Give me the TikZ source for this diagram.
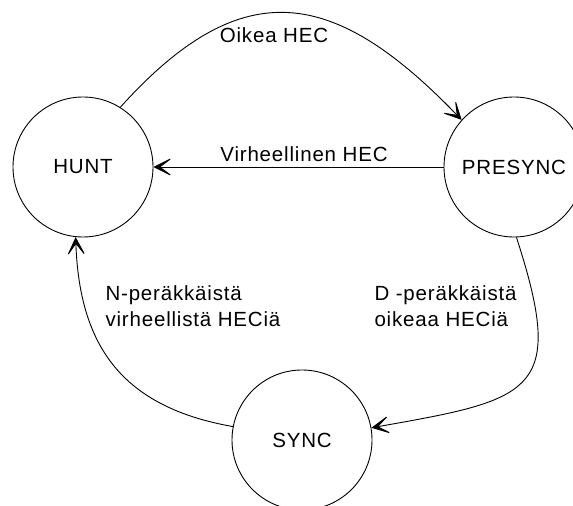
\documentclass[tikz,border=0pt]{standalone}
\usepackage{fontspec}
\setmainfont{Liberation Sans}[LetterSpace=4]
\usetikzlibrary{arrows.meta}

\begin{document}
\begin{tikzpicture}[x=1pt, y=1pt, every node/.style={font=\fontsize{20.5}{26}\selectfont},
    state/.style={draw, circle, line width=0.9pt, minimum size=140pt, inner sep=0pt},
    trans/.style={line width=0.9pt, -{Stealth[length=21pt, width=21pt, inset=14pt]}}]
  \useasboundingbox (0,0) rectangle (573,506);
  \node[state] (hunt) at (83,339) {HUNT};
  \node[state] (presync) at (514,339) {PRESYNC};
  \node[state] (sync) at (302,66) {SYNC};
  \draw[trans] (hunt.58) to[out=48, in=134, looseness=1.37] (presync.138);
  \node[anchor=base] (oikea) at (274,463) {Oikea HEC};
  \draw[trans] (presync.west) -- (hunt.east);
  \node[anchor=base] (virhe) at (304,344) {Virheellinen HEC};
  \draw[trans] (presync.-88) to[out=-72, in=10, looseness=1.75] (sync.10);
  \node[anchor=base west, align=left] (dper) at (371,179) {D -peräkkäistä\\oikeaa HECiä};
  \draw[trans] (sync.169) to[out=170, in=-88, looseness=1.15] (hunt.-96);
  \node[anchor=base west, align=left] (nper) at (102,179) {N-peräkkäistä\\virheellistä HECiä};
\end{tikzpicture}
\end{document}
